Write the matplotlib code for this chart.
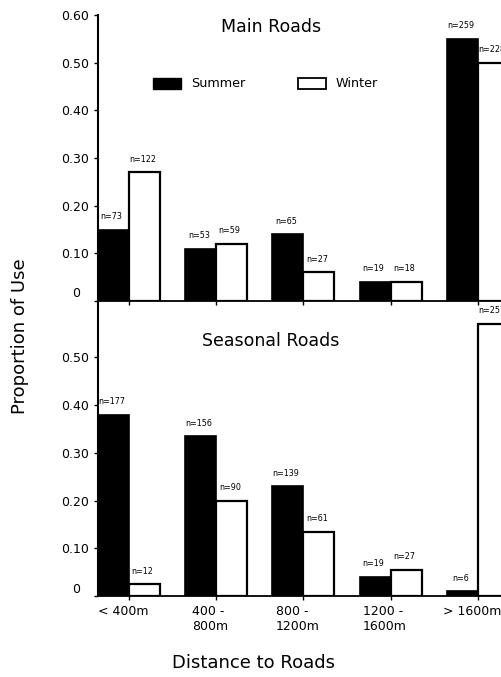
import numpy as np
import matplotlib
matplotlib.use('Agg')
import matplotlib.pyplot as plt
from matplotlib.patches import Patch
from matplotlib.transforms import ScaledTranslation

plt.rcParams['font.family'] = ['DejaVu Sans']

categories = ['< 400m', '400 -\n800m', '800 -\n1200m', '1200 -\n1600m', '> 1600m']
main_summer = [0.15, 0.11, 0.14, 0.04, 0.55]
main_winter = [0.27, 0.12, 0.06, 0.04, 0.50]
main_summer_n = [73, 53, 65, 19, 259]
main_winter_n = [122, 59, 27, 18, 228]
seas_summer = [0.38, 0.335, 0.23, 0.04, 0.01]
seas_winter = [0.025, 0.20, 0.135, 0.055, 0.57]
seas_summer_n = [177, 156, 139, 19, 6]
seas_winter_n = [12, 90, 61, 27, 257]
yticks_main = [0, 0.1, 0.2, 0.3, 0.4, 0.5, 0.6]
yticks_seas = [0, 0.1, 0.2, 0.3, 0.4, 0.5]

x = np.arange(len(categories))
w = 0.355

fig = plt.figure(figsize=(5.01, 6.77), dpi=100)
ax1 = fig.add_axes([0.1956, 0.5554, 0.8044, 0.4224])
ax2 = fig.add_axes([0.1956, 0.1196, 0.8044, 0.4358])


def draw(ax, summer, winter, sn, wn, yticks, ytop, title, ty):
    ax.bar(x - w / 2, summer, w, color='black', edgecolor='black', linewidth=1.2)
    ax.bar(x + w / 2, winter, w, color='white', edgecolor='black', linewidth=1.6)
    for i in range(len(x)):
        ax.annotate('n=%d' % sn[i], (x[i] - w / 2, summer[i]), xytext=(-2, 13),
                    textcoords='offset pixels', ha='center', va='center',
                    fontsize=5.8, annotation_clip=False)
        ax.annotate('n=%d' % wn[i], (x[i] + w / 2, winter[i]), xytext=(-2, 13),
                    textcoords='offset pixels', ha='center', va='center',
                    fontsize=5.8, annotation_clip=False)
    ax.set_xlim(-w, 4.264)
    ax.set_ylim(0, ytop)
    ax.set_yticks(yticks)
    ax.set_yticklabels([''] + ['%.2f' % v for v in yticks[1:]], fontsize=9)
    # the zero label sits a little higher and further left in the original
    ax.annotate('0', xy=(0, 0), xycoords=('axes fraction', 'data'), xytext=(-22, 7),
                textcoords='offset pixels', ha='center', va='center', fontsize=9)
    ax.set_xticks(x)
    ax.tick_params(direction='out', length=3, width=1, pad=3.5)
    ax.spines['top'].set_visible(False)
    ax.spines['right'].set_visible(False)
    ax.spines['left'].set_linewidth(1.5)
    ax.spines['bottom'].set_linewidth(1.3)
    ax.patch.set_alpha(0)
    ax.text(0.429, ty, title, transform=ax.transAxes, ha='center', va='center', fontsize=12.5)


draw(ax1, main_summer, main_winter, main_summer_n, main_winter_n, yticks_main, 0.60, 'Main Roads', 0.958)
draw(ax2, seas_summer, seas_winter, seas_summer_n, seas_winter_n, yticks_seas, 0.618, 'Seasonal Roads', 0.864)

ax1.set_xticklabels([])
ax2.set_xticklabels(categories, fontsize=9, multialignment='left')
for lab in ax2.get_xticklabels():
    lab.set_transform(lab.get_transform() + ScaledTranslation(-6 / 100, 0, fig.dpi_scale_trans))

handles = [Patch(facecolor='black', edgecolor='black'),
           Patch(facecolor='white', edgecolor='black', linewidth=1.3)]
ax1.legend(handles, ['Summer', 'Winter'], ncol=2, loc='center',
           bbox_to_anchor=(0.4156, 0.759), frameon=False, fontsize=9.2,
           handlelength=2.2, handleheight=0.95, columnspacing=4.1, handletextpad=0.8)

fig.text(0.040, 0.504, 'Proportion of Use', rotation=90, ha='center', va='center', fontsize=13)
fig.text(0.505, 0.02, 'Distance to Roads', ha='center', va='center', fontsize=13)

fig.savefig('out.png', dpi=100)
